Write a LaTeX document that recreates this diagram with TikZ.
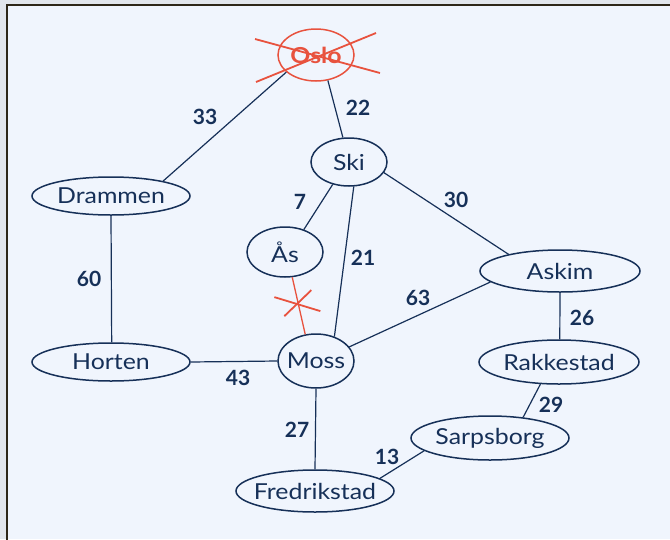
\documentclass[tikz,border=0pt]{standalone}
\usepackage{fontspec}
\setmainfont{Lato}
\newfontfamily\citcase[FakeStretch=1.13]{Lato}
\newcommand\cityname[1]{\makebox[0pt]{#1}}
\usetikzlibrary{shapes.geometric}
\definecolor{navy}{RGB}{22,48,88}
\definecolor{redx}{RGB}{232,82,62}
\definecolor{bgblue}{RGB}{240,245,253}
\definecolor{frame}{RGB}{45,38,24}
\definecolor{outer}{RGB}{226,230,236}
\begin{document}
\begin{tikzpicture}[x=1pt,y=-1pt,
  city/.style={ellipse,draw=navy,line width=1.5pt,inner sep=0pt,text=navy,
    font=\citcase\fontsize{22}{26}\selectfont},
  edge/.style={draw=navy,line width=1.2pt},
  wlabel/.style={text=navy,font=\fontsize{21}{24}\selectfont\bfseries,inner sep=0pt},
  redline/.style={draw=redx,line width=1.8pt},
]
\useasboundingbox (0,0) rectangle (670,539);
\fill[outer] (0,0) rectangle (670,539);
\fill[bgblue] (7,5) rectangle (670,539);
\draw[frame,line width=2.2pt] (7,545) -- (7,5) -- (676,5);

% nodes
\node[city,draw=redx,text=redx,minimum width=76pt,minimum height=52pt,font=\citcase\fontsize{22}{26}\selectfont\bfseries] (oslo) at (316,55) {\cityname{Oslo}};
\node[city,minimum width=76pt,minimum height=48pt] (ski) at (349,162) {\cityname{Ski}};
\node[city,minimum width=158pt,minimum height=38pt] (drammen) at (111,196) {\cityname{Drammen}};
\node[city,minimum width=76pt,minimum height=50pt] (aas) at (285,252) {\cityname{Ås}};
\node[city,minimum width=160pt,minimum height=42pt] (askim) at (560,271) {\cityname{Askim}};
\node[city,minimum width=158pt,minimum height=38pt] (horten) at (111,362) {\cityname{Horten}};
\node[city,minimum width=76pt,minimum height=54pt] (moss) at (316,361) {\cityname{Moss}};
\node[city,minimum width=160pt,minimum height=44pt] (rakkestad) at (559,362) {\cityname{Rakkestad}};
\node[city,minimum width=158pt,minimum height=44pt] (sarpsborg) at (490,438) {\cityname{Sarpsborg}};
\node[city,minimum width=158pt,minimum height=42pt] (fredrikstad) at (315,491) {\cityname{Fredrikstad}};

% edges
\draw[edge] (oslo.210) -- (drammen.16);
\draw[edge] (oslo.295) -- (ski.104);
\draw[edge] (drammen.270) -- (horten.88);
\draw[edge] (horten.0) -- (moss.180);
\draw[edge] (ski.234) -- (aas.50);
\draw[edge] (ski.281) -- (moss.53);
\draw[edge] (ski.343) -- (askim.162);
\draw[edge] (moss.23) -- (askim.189);
\draw[edge] (moss.270) -- (fredrikstad.90);
\draw[edge] (askim.270) -- (rakkestad.88);
\draw[edge] (rakkestad.230) -- (sarpsborg.32);
\draw[edge] (sarpsborg.191) -- (fredrikstad.11);
\draw[redline,line width=1.3pt] (aas.286) -- coordinate[pos=0.47] (cut) (moss.112);

% crosses
\draw[redline] ([shift={(-24,-7)}]cut) -- ([shift={(22,7)}]cut);
\draw[redline] ([shift={(-14,12)}]cut) -- ([shift={(13,-14)}]cut);
\draw[redline] ([shift={(-61,-16)}]oslo.center) -- ([shift={(64,18)}]oslo.center);
\draw[redline] ([shift={(-60,27)}]oslo.center) -- ([shift={(60,-22)}]oslo.center);

% weights
\node[wlabel] (w33) at (205,117) {33};
\node[wlabel] (w22) at (358,108) {22};
\node[wlabel] (w7) at (300,202) {7};
\node[wlabel] (w30) at (456,200) {30};
\node[wlabel] (w21) at (363,258) {21};
\node[wlabel] (w60) at (89,279) {60};
\node[wlabel] (w43) at (238,378) {43};
\node[wlabel] (w63) at (418,298) {63};
\node[wlabel] (w26) at (582,318) {26};
\node[wlabel] (w29) at (551,405) {29};
\node[wlabel] (w27) at (297,430) {27};
\node[wlabel] (w13) at (387,457) {13};
\end{tikzpicture}
\end{document}
